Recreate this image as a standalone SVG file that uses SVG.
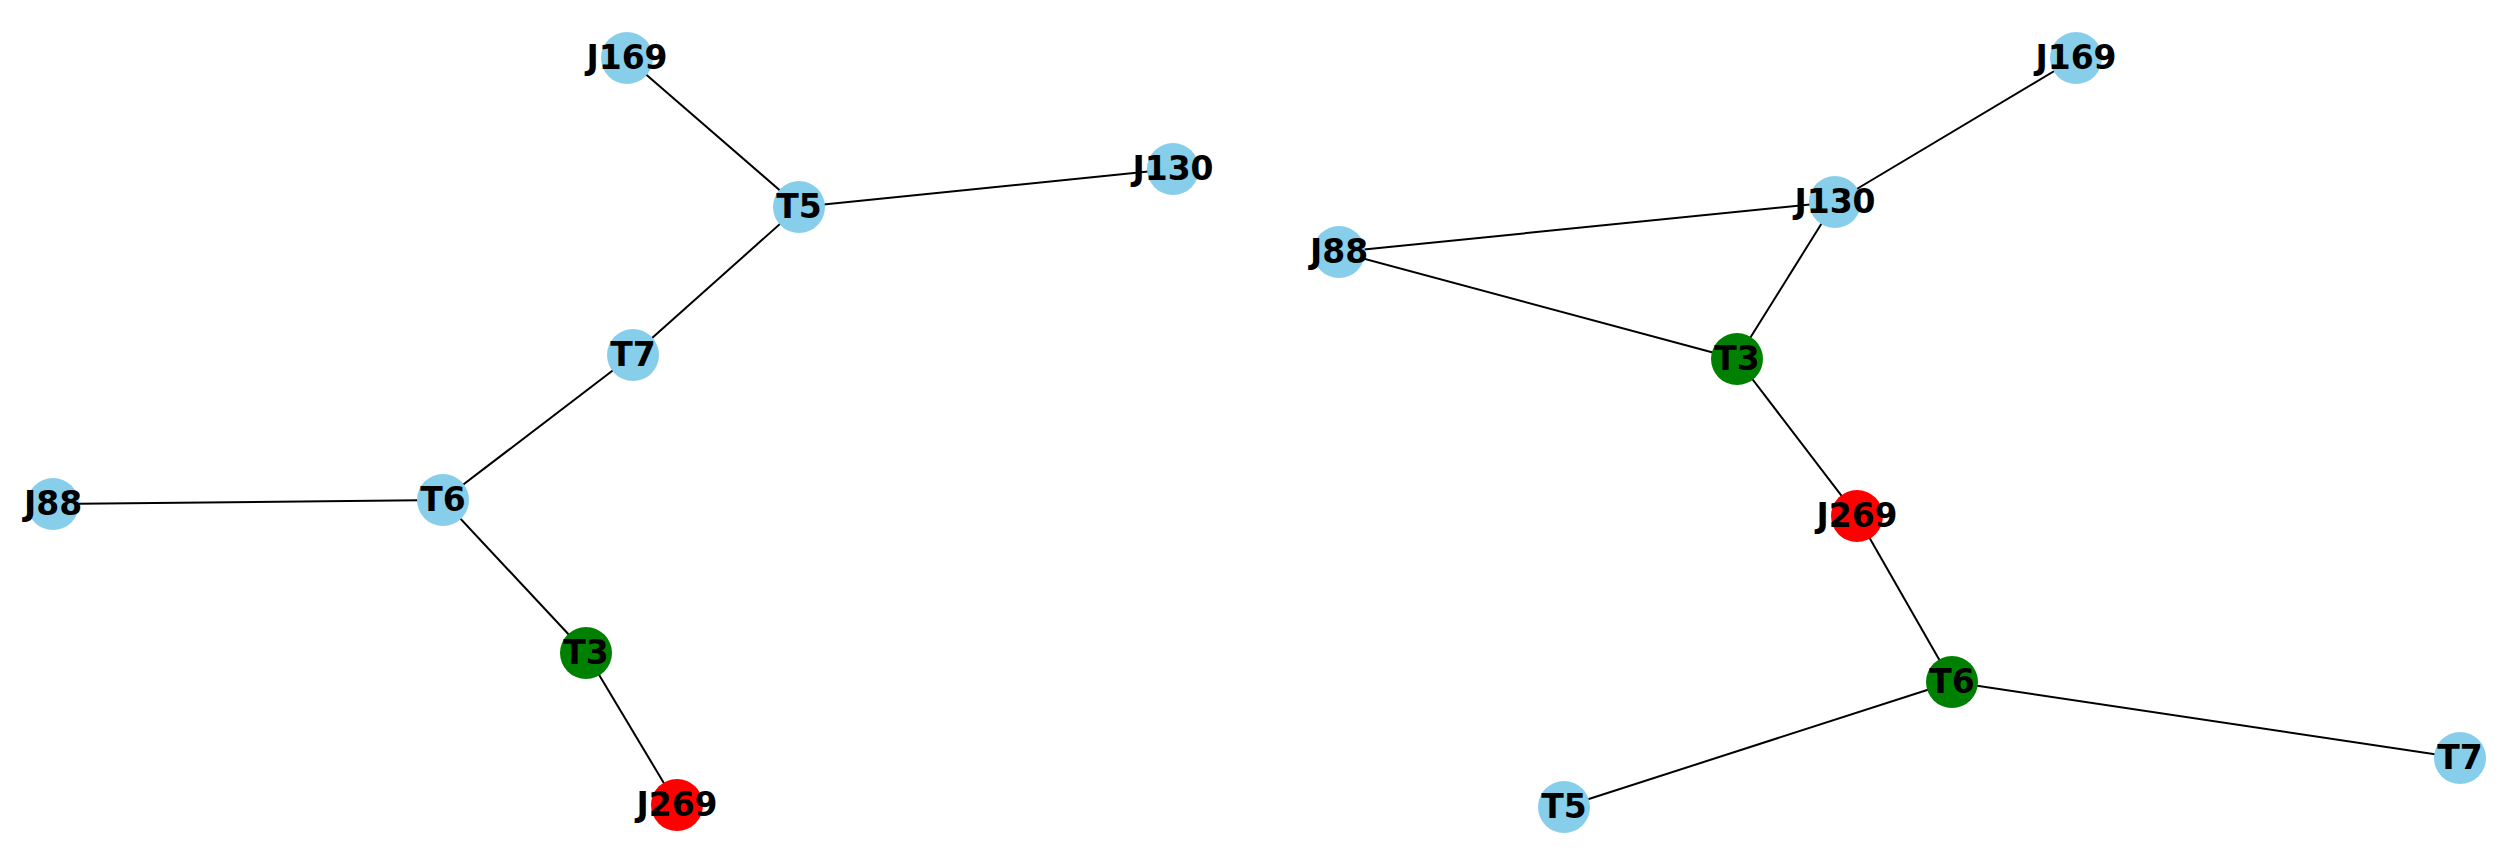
<svg xmlns="http://www.w3.org/2000/svg" width="2506" height="856" viewBox="0 0 2506 856">
<style>
.e{stroke:#000;stroke-width:2;fill:none}
.b{fill:#87CEEB}
.g{fill:#008000}
.r{fill:#FF0000}
text{font-family:"DejaVu Sans",sans-serif;font-weight:bold;font-size:33px;text-anchor:middle;fill:#000}
</style>
<rect width="2506" height="856" fill="#fff"/>
<g id="connectors">
<line class="e" x1="627" y1="58" x2="799" y2="207"/>
<line class="e" x1="799" y1="207" x2="1173" y2="169"/>
<line class="e" x1="799" y1="207" x2="633" y2="355"/>
<line class="e" x1="633" y1="355" x2="443" y2="500"/>
<line class="e" x1="443" y1="500" x2="53" y2="504"/>
<line class="e" x1="443" y1="500" x2="586" y2="653"/>
<line class="e" x1="586" y1="653" x2="677" y2="805"/>
<line class="e" x1="2076" y1="58" x2="1835" y2="202"/>
<line class="e" x1="1835" y1="202" x2="1339" y2="252"/>
<line class="e" x1="1835" y1="202" x2="1737" y2="359"/>
<line class="e" x1="1339" y1="252" x2="1737" y2="359"/>
<line class="e" x1="1737" y1="359" x2="1857" y2="516"/>
<line class="e" x1="1857" y1="516" x2="1952" y2="682"/>
<line class="e" x1="1952" y1="682" x2="1564" y2="807"/>
<line class="e" x1="1952" y1="682" x2="2460" y2="758"/>
</g>
<g id="L_J169"><circle class="b" cx="627" cy="58" r="26"/><text x="627" y="69">J169</text></g>
<g id="L_T5"><circle class="b" cx="799" cy="207" r="26"/><text x="799" y="218">T5</text></g>
<g id="L_J130"><circle class="b" cx="1173" cy="169" r="26"/><text x="1173" y="180">J130</text></g>
<g id="L_T7"><circle class="b" cx="633" cy="355" r="26"/><text x="633" y="366">T7</text></g>
<g id="L_T6"><circle class="b" cx="443" cy="500" r="26"/><text x="443" y="511">T6</text></g>
<g id="L_J88"><circle class="b" cx="53" cy="504" r="26"/><text x="53" y="515">J88</text></g>
<g id="L_T3"><circle class="g" cx="586" cy="653" r="26"/><text x="586" y="664">T3</text></g>
<g id="L_J269"><circle class="r" cx="677" cy="805" r="26"/><text x="677" y="816">J269</text></g>
<g id="R_J169"><circle class="b" cx="2076" cy="58" r="26"/><text x="2076" y="69">J169</text></g>
<g id="R_J130"><circle class="b" cx="1835" cy="202" r="26"/><text x="1835" y="213">J130</text></g>
<g id="R_J88"><circle class="b" cx="1339" cy="252" r="26"/><text x="1339" y="263">J88</text></g>
<g id="R_T3"><circle class="g" cx="1737" cy="359" r="26"/><text x="1737" y="370">T3</text></g>
<g id="R_J269"><circle class="r" cx="1857" cy="516" r="26"/><text x="1857" y="527">J269</text></g>
<g id="R_T6"><circle class="g" cx="1952" cy="682" r="26"/><text x="1952" y="693">T6</text></g>
<g id="R_T5"><circle class="b" cx="1564" cy="807" r="26"/><text x="1564" y="818">T5</text></g>
<g id="R_T7"><circle class="b" cx="2460" cy="758" r="26"/><text x="2460" y="769">T7</text></g>
</svg>
